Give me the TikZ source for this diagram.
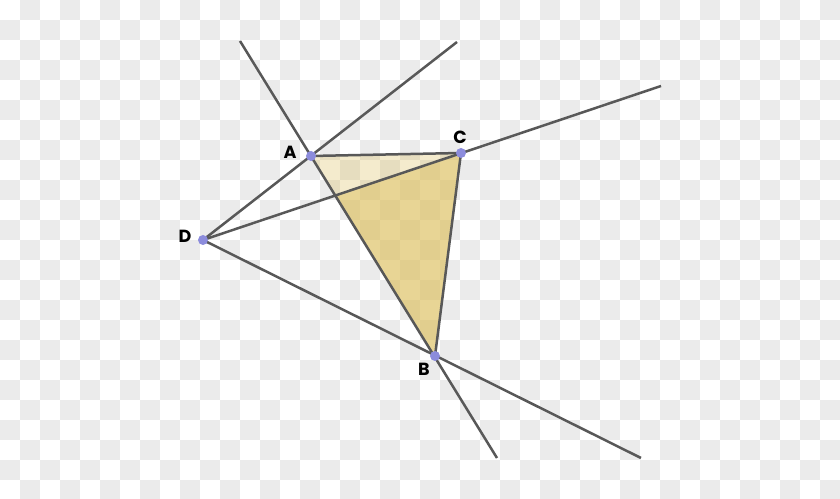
\documentclass[tikz,border=0pt]{standalone}
\usepackage{fontspec}
\setmainfont{Poppins}
\definecolor{checkgrey}{RGB}{235,235,235}
\definecolor{linegrey}{RGB}{88,88,88}
\definecolor{dotblue}{RGB}{140,140,220}
\definecolor{tan}{RGB}{220,190,90}
\tikzset{
	ray/.style={line width=0.5mm, color=linegrey},
	dot/.style={circle, fill=dotblue, inner sep=0pt, minimum size=0.2cm},
	lbl/.style={font=\fontsize{10}{11}\selectfont\bfseries, inner sep=0pt}
}

\begin{document}
\begin{tikzpicture}[x=0.02cm, y=-0.02cm]
		%%%%% START %%%%%
		\useasboundingbox (0, 0) rectangle (840, 499);
		\fill[white] (0, 0) rectangle (840, 499);
		
		% checker background
		\foreach \i in {0,...,41}
			\foreach \j in {0,...,24} {
				\pgfmathparse{int(mod(\i+\j,2))}
				\ifnum\pgfmathresult=1
					\fill[checkgrey] (20*\i, 20*\j) rectangle (20*\i+20, 20*\j+20);
				\fi
			}
		
		\coordinate (A) at (311, 156);
		\coordinate (C) at (461, 153);
		\coordinate (D) at (203, 240);
		\coordinate (B) at (435, 356);
		
		\coordinate (abTop) at (240, 41);
		\coordinate (abEnd) at (497, 458);
		\coordinate (daEnd) at (457, 42);
		\coordinate (dcEnd) at (661, 86);
		\coordinate (dbEnd) at (641, 458);
		\coordinate (P) at (intersection of A--B and D--C);
		
		% triangle
		\fill[tan, opacity=0.3] (A) -- (C) -- (B) -- cycle;
		\fill[tan, opacity=0.48] (P) -- (C) -- (B) -- cycle;
		
		\draw[ray] (abTop) -- (abEnd);
		\draw[ray] (D) -- (daEnd);
		\draw[ray] (D) -- (dcEnd);
		\draw[ray] (D) -- (dbEnd);
		\draw[ray] (A) -- (C) -- (B);
		
		\node[dot] (dotA) at (A) {};
		\node[dot] (dotB) at (B) {};
		\node[dot] (dotC) at (C) {};
		\node[dot] (dotD) at (D) {};
		
		\node[lbl] (labA) at (290, 152) {A};
		\node[lbl] (labC) at (460, 137) {C};
		\node[lbl] (labD) at (185, 236) {D};
		\node[lbl] (labB) at (424, 369) {B};
		
		%%%%% END %%%%%
	\end{tikzpicture}
\end{document}
